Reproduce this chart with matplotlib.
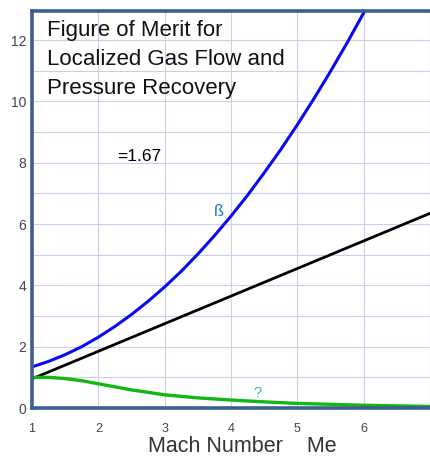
import matplotlib.pyplot as plt

plt.rcParams['font.family'] = ['Liberation Sans', 'DejaVu Sans']

# values
mach = [1.0, 1.25, 1.5, 1.75, 2.0, 2.25, 2.5, 2.75, 3.0, 3.25, 3.5, 3.75,
        4.0, 4.25, 4.5, 4.75, 5.0, 5.25, 5.5, 5.75, 6.0, 6.25]
beta = [1.34, 1.52, 1.74, 2.00, 2.31, 2.66, 3.05, 3.48, 3.95, 4.46, 5.02, 5.62,
        6.26, 6.94, 7.67, 8.43, 9.24, 10.09, 10.98, 11.91, 12.89, 13.90]

mach_g = [1.0, 1.25, 1.5, 1.75, 2.0, 2.5, 3.0, 3.5, 4.0, 4.5, 5.0, 5.5, 6.0, 6.5, 7.0]
gamma_g = [1.00, 1.00, 0.96, 0.89, 0.79, 0.59, 0.43, 0.33, 0.26, 0.20, 0.15,
           0.12, 0.09, 0.07, 0.05]

mach_k = [1.0, 7.0]
lin_k = [0.95, 6.35]

xticks = [1, 2, 3, 4, 5, 6]
yticks = [0, 2, 4, 6, 8, 10, 12]

spine_col = '#3c5f8f'

fig = plt.figure(figsize=(4.3, 4.58), dpi=100)
ax = fig.add_axes([32/430, 50/458, 398/430, 397/458])

ax.plot(mach, beta, color='#0a0af0', lw=2.2)
ax.plot(mach_k, lin_k, color='black', lw=2.0)
ax.plot(mach_g, gamma_g, color='#10b810', lw=2.4)

ax.set_xlim(1, 7)
ax.set_ylim(0, 12.95)
ax.set_xticks(xticks)
ax.set_yticks(yticks)
ax.set_xticks(range(1, 8), minor=True)
ax.set_yticks(range(0, 13), minor=True)
ax.grid(True, which='both', color='#cdcdef', lw=0.8)
ax.set_axisbelow(True)
ax.tick_params(which='both', length=0)
ax.tick_params(axis='y', labelsize=10, labelcolor='#444444', pad=4)
ax.tick_params(axis='x', labelsize=9, labelcolor='#444444', pad=11)

for side in ['left', 'top', 'bottom']:
    ax.spines[side].set_color(spine_col)
    ax.spines[side].set_linewidth(2.6)
ax.spines['right'].set_visible(False)

ax.text(0.038, 0.978, 'Figure of Merit for\nLocalized Gas Flow and\nPressure Recovery',
        transform=ax.transAxes, ha='left', va='top', fontsize=16,
        linespacing=1.5, color='#111111')
ax.text(2.28, 8.2, '=1.67', fontsize=12.5, ha='left', va='center', color='black')
ax.text(3.82, 6.4, 'ß', fontsize=12, ha='center', va='center', color='#1e78d0')
ax.text(4.4, 0.5, '?', fontsize=10.5, ha='center', va='center', color='#3cbf7a')

fig.text(242/430, 1 - 447/458, 'Mach Number    Me', ha='center', va='center',
         fontsize=15.5, color='#333333')

fig.savefig('out.png', dpi=100)
